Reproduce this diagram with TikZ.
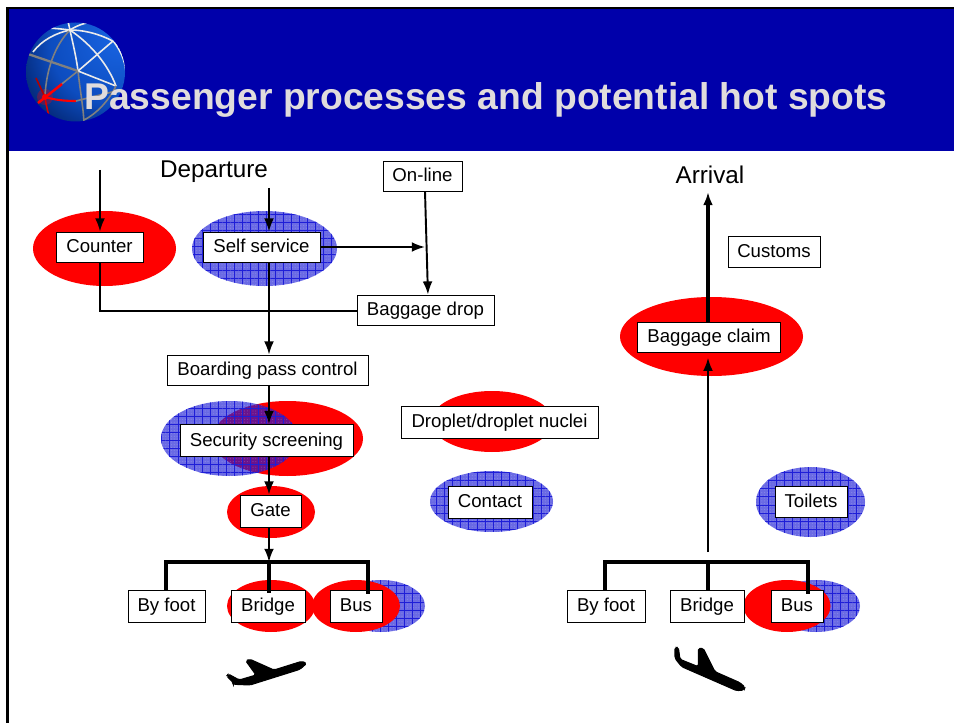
\documentclass[tikz,border=0pt]{standalone}
\usepackage{fontspec}
\setmainfont{Liberation Sans}
\usetikzlibrary{arrows.meta,patterns.meta}

\definecolor{headerblue}{RGB}{0,0,170}
\definecolor{titlegrey}{RGB}{224,220,220}
\definecolor{hotspotred}{RGB}{255,0,0}
\definecolor{contactblue}{RGB}{30,30,215}
\definecolor{globeline}{RGB}{235,235,235}

\pgfdeclareradialshading{globeball}{\pgfpoint{25bp}{20bp}}{
  rgb(0bp)=(0.10,0.40,0.90);
  rgb(30bp)=(0.05,0.30,0.75);
  rgb(50bp)=(0,0.10,0.35);
  rgb(70bp)=(0,0.03,0.15);
  rgb(100bp)=(0,0.03,0.15)}

\tikzset{
  flowbox/.style={draw=black, line width=0.5pt, fill=white, inner sep=0pt, text height=8.8pt, text depth=2pt, font=\fontsize{10.6}{12}\selectfont},
  flowtext/.style={font=\fontsize{13.8}{15}\selectfont},
  link/.style={line width=1.1pt, -{Latex[length=7.5pt,width=5.6pt]}},
  trunk/.style={line width=1.9pt, line cap=butt},
  hotred/.style={fill=hotspotred},
  hotblue/.style={fill=contactblue, fill opacity=0.66,
    postaction={pattern={Dots[distance=1.6pt,radius=0.35pt]}, pattern color=white, fill opacity=0.18},
    postaction={pattern={Lines[angle=0,distance=4.6pt,line width=0.3pt]}, pattern color=contactblue, fill opacity=0.9},
    postaction={pattern={Lines[angle=90,distance=4.6pt,line width=0.3pt]}, pattern color=contactblue, fill opacity=0.9}},
  globewire/.style={draw=globeline, line width=0.9pt}
}

\begin{document}
\begin{tikzpicture}[x=0.02cm,y=-0.02cm]

\useasboundingbox (0,0) rectangle (954,723);

% page and header
\fill[white] (0,0) rectangle (954,723);
\fill[headerblue] (8,8) rectangle (954,151);
\fill[black] (6,7) rectangle (954,9);
\fill[black] (6,7) rectangle (9,723);

% globe
\begin{scope}
\clip (75.5,72) circle [radius=49.5];
\shade[shading=globeball] (26,22.5) rectangle (125,121.5);
\fill[red, opacity=0.3] (45,97) circle [radius=8];
\draw[globewire] (68,21) .. controls (72,40) and (76,55) .. (78,71);
\draw[globewire, draw=gray] (78,71) .. controls (80,90) and (83,105) .. (84,122);
\draw[globewire, draw=gray, line width=1.3pt] (28,54) -- (78,71);
\draw[globewire] (78,71) -- (116,86);
\draw[globewire] (33,52) .. controls (42,40) and (56,33) .. (70,30) .. controls (90,30) and (108,38) .. (114,42) .. controls (120,50) and (125,60) .. (126,72);
\draw[globewire] (44,28) .. controls (52,28) and (62,29) .. (70,30) .. controls (76,26) and (84,23) .. (92,22);
\draw[globewire] (113,41) -- (78,71);
\draw[globewire, draw=gray] (78,71) -- (58,87);
\draw[globewire, draw=red, line width=1.4pt] (62,84) -- (38,103);
\draw[globewire] (70,30) .. controls (92,45) and (108,65) .. (116,86);
\draw[globewire, draw=gray] (70,30) .. controls (55,45) and (46,70) .. (45,97);
\draw[globewire, draw=red!85!black] (45,97) .. controls (46,105) and (48,112) .. (50,120);
\draw[globewire, draw=red, line width=1.2pt] (45,97) .. controls (55,100) and (65,101) .. (76,101);
\draw[globewire, draw=gray] (76,101) -- (112,92);
\draw[globewire, draw=red!70!black] (36,78) -- (45,97);
\draw[globewire, draw=gray] (116,86) .. controls (108,102) and (96,114) .. (84,120);
\fill[red] (45,97) circle [radius=3];
\fill[globeline] (70,30) circle [radius=1.8];
\end{scope}

% title
\node[text=titlegrey, font=\fontsize{21.2}{24}\bfseries\selectfont, anchor=base west, inner sep=0pt] (title) at (84,110) {Passenger processes and potential hot spots};

% hot spots
\path[hotred] (104.5,248.5) ellipse [x radius=71.5, y radius=37.5];
\path[hotblue] (264.5,248.5) ellipse [x radius=72.5, y radius=37.5];
\path[hotred] (287.5,438.5) ellipse [x radius=75.5, y radius=37.5];
\path[hotblue] (229.5,438.5) ellipse [x radius=68.5, y radius=37.5];
\path[hotred] (271,512) ellipse [x radius=44, y radius=26];
\path[hotblue] (381,606) ellipse [x radius=44, y radius=26];
\path[hotred] (271,606) ellipse [x radius=44, y radius=26];
\path[hotred] (356,606) ellipse [x radius=44, y radius=26];
\path[hotred] (492,421.5) ellipse [x radius=61, y radius=30.5];
\path[hotblue] (491.5,501.5) ellipse [x radius=61.5, y radius=30.5];
\path[hotred] (711.5,336.5) ellipse [x radius=91.5, y radius=39.5];
\path[hotblue] (810.5,502) ellipse [x radius=54.5, y radius=35];
\path[hotblue] (816,606) ellipse [x radius=44, y radius=26];
\path[hotred] (787,606) ellipse [x radius=43.5, y radius=26];

% boxes
\node[flowbox, minimum width=1.74cm, minimum height=0.6cm] (counter) at (99.5,247) {Counter};
\node[flowbox, minimum width=2.34cm, minimum height=0.6cm] (selfservice) at (261.5,247) {Self service};
\node[flowbox, minimum width=1.58cm, minimum height=0.6cm] (online) at (422.5,176) {On-line};
\node[flowbox, minimum width=2.74cm, minimum height=0.6cm] (baggagedrop) at (425.5,310) {Baggage drop};
\node[flowbox, minimum width=4.02cm, minimum height=0.6cm] (boardingpass) at (267.5,370) {Boarding pass control};
\node[flowbox, minimum width=3.46cm, minimum height=0.64cm] (security) at (266.5,440.5) {Security screening};
\node[flowbox, minimum width=1.22cm, minimum height=0.64cm] (gate) at (270.5,511) {Gate};
\node[flowbox, minimum width=3.94cm, minimum height=0.64cm] (droplet) at (499.5,422) {Droplet/droplet nuclei};
\node[flowbox, minimum width=1.68cm, minimum height=0.64cm] (contact) at (490,502) {Contact};
\node[flowbox, minimum width=1.44cm, minimum height=0.62cm] (toilets) at (811,501.5) {Toilets};
\node[flowbox, minimum width=1.84cm, minimum height=0.62cm] (customs) at (774,251.5) {Customs};
\node[flowbox, minimum width=2.86cm, minimum height=0.6cm] (baggageclaim) at (709,337) {Baggage claim};
\node[flowbox, minimum width=1.54cm, minimum height=0.64cm] (footdep) at (166.5,606) {By foot};
\node[flowbox, minimum width=1.48cm, minimum height=0.64cm] (bridgedep) at (268,606) {Bridge};
\node[flowbox, minimum width=1.04cm, minimum height=0.64cm] (busdep) at (356,606) {Bus};
\node[flowbox, minimum width=1.56cm, minimum height=0.64cm] (footarr) at (606,606) {By foot};
\node[flowbox, minimum width=1.48cm, minimum height=0.64cm] (bridgearr) at (707,606) {Bridge};
\node[flowbox, minimum width=1.04cm, minimum height=0.64cm] (busarr) at (797,606) {Bus};

% labels
\node[flowtext] (departure) at (214,172) {Departure};
\node[flowtext] (arrival) at (710,175) {Arrival};

% free ends
\coordinate (counterin) at (100,170);
\coordinate (selfin) at (269,188);
\coordinate (onlinein) at (425,247);
\coordinate (trunkdep) at (269,562);
\coordinate (trunkarr) at (708,552);
\coordinate (arrivalup) at (708,192);
\coordinate (cornerdrop) at (100,311);
\coordinate (barleftdep) at (166,562);
\coordinate (barrightdep) at (368,562);
\coordinate (barleftarr) at (605,562);
\coordinate (barmidarr) at (708,562);
\coordinate (barrightarr) at (808,562);

% arrows departure
\draw[link] (counterin) -- (counterin |- counter.north);
\draw[link] (selfin) -- (selfin |- selfservice.north);
\draw[link] (selfservice.east) -- (onlinein);
\draw[link] (online.south -| onlinein) -- ([xshift=1.4pt]baggagedrop.north);
\draw[link] (selfin |- selfservice.south) -- (selfin |- boardingpass.north);
\draw[link] (selfin |- boardingpass.south) -- (selfin |- security.north);
\draw[link] (selfin |- security.south) -- (selfin |- gate.north);
\draw[link] (selfin |- gate.south) -- (trunkdep);
\draw[trunk, line width=1.4pt] (counter.south -| cornerdrop) -- (cornerdrop) -- (cornerdrop -| baggagedrop.west);
\draw[trunk] (footdep.north -| barleftdep) -- (barleftdep) -- (barrightdep) -- ([yshift=-2.5pt]busdep.north -| barrightdep);
\draw[trunk] (trunkdep) -- ([yshift=-2pt]bridgedep.north -| trunkdep);

% arrows arrival
\draw[link] (trunkarr) -- ([yshift=-3pt]baggageclaim.south -| trunkarr);
\draw[trunk, -{Latex[length=7.5pt,width=5.6pt]}] (baggageclaim.north -| arrivalup) -- (arrivalup);
\draw[trunk] (footarr.north -| barleftarr) -- (barleftarr) -- (barrightarr) -- ([yshift=-2.5pt]busarr.north -| barrightarr);
\draw[trunk] (barmidarr) -- (bridgearr.north -| barmidarr);

% planes
\filldraw[black, line width=0.6pt, rounded corners=1pt] (306.7,663.3) -- (301.7,661.3) -- (274,670) -- (250,659.3) -- (245.7,660.7) -- (256,675) -- (239.3,680) -- (228.3,674) -- (226.7,676) -- (233.3,682.7) -- (233.3,684.3) -- (250,685) -- (300,669.3) -- cycle;
\filldraw[black, line width=0.6pt, rounded corners=1pt] (745,687.3) -- (740,682.7) -- (715,671.7) -- (703.3,648.3) -- (698.3,648.3) -- (698.3,666.7) -- (680,659.3) -- (678.3,647.3) -- (675,647.3) -- (675,658.3) -- (681.7,666.7) -- (736.7,690.7) -- (744,690) -- cycle;

\end{tikzpicture}
\end{document}
